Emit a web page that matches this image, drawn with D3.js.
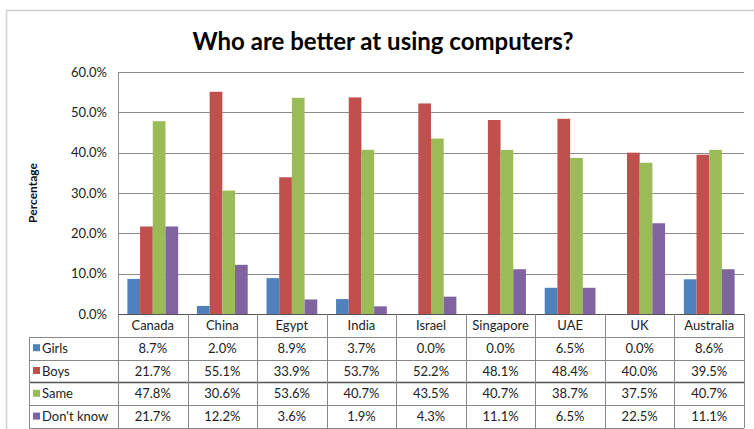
<!DOCTYPE html>
<html><head><meta charset="utf-8">
<script src="https://cdn.jsdelivr.net/npm/d3@7"></script>
<style>body{margin:0;background:#fff;} svg{display:block;font-family:Lato,"Open Sans",sans-serif;}</style>
</head><body>
<svg id="c" width="754" height="429"></svg>
<script>
const categories = ["Canada","China","Egypt","India","Israel","Singapore","UAE","UK","Australia"];
const seriesNames = ["Girls","Boys","Same","Don't know"];
const girls = [8.7,2.0,8.9,3.7,0.0,0.0,6.5,0.0,8.6];
const boys = [21.7,55.1,33.9,53.7,52.2,48.1,48.4,40.0,39.5];
const same = [47.8,30.6,53.6,40.7,43.5,40.7,38.7,37.5,40.7];
const dontKnow = [21.7,12.2,3.6,1.9,4.3,11.1,6.5,22.5,11.1];
const yTicks = [0,10,20,30,40,50,60];
const colors = ["#4F81BD","#C0504D","#9BBB59","#8064A2"];
const seriesValues = [girls, boys, same, dontKnow];

const svg = d3.select("#c");
const L = 118, R = 744, T = 72, B = 314;
const rowH = 22.8;
const fs = 13;

// outer border
svg.append("rect").attr("x",6.5).attr("y",10.5).attr("width",760).attr("height",430)
  .attr("fill","none").attr("stroke","#d0d0d0").attr("stroke-width",1.5);

svg.append("text").attr("x",383).attr("y",50).attr("text-anchor","middle")
  .attr("font-size",24).attr("font-weight","bold").attr("fill","#000")
  .text("Who are better at using computers?");

const x = d3.scaleBand().domain(categories).range([L,R]).padding(0);
const x1 = d3.scaleBand().domain(seriesNames).range([0,x.bandwidth()]).paddingInner(0).paddingOuter(0.74);
const y = d3.scaleLinear().domain([0,60]).range([B,T]);

// gridlines
svg.append("g").selectAll("line").data(yTicks.filter(d=>d>0)).join("line")
  .attr("x1",L).attr("x2",R).attr("y1",d=>Math.round(y(d))+0.5).attr("y2",d=>Math.round(y(d))+0.5)
  .attr("stroke","#8c8c8c").attr("stroke-width",1.2);

// y axis
const ya = svg.append("g").attr("transform",`translate(${L},0)`)
  .call(d3.axisLeft(y).tickValues(yTicks).tickSize(0).tickPadding(11).tickFormat(d=>d.toFixed(1)+"%"));
ya.select(".domain").attr("stroke","#8c8c8c");
ya.selectAll("text").attr("font-size",fs).attr("font-family","Lato,sans-serif").attr("fill","#222");

svg.append("text").attr("transform","translate(37,193) rotate(-90)").attr("text-anchor","middle")
  .attr("font-size",12).attr("font-weight","bold").attr("fill","#111").text("Percentage");

// bars
const flat = [];
categories.forEach((c,i)=>seriesNames.forEach((s,j)=>flat.push({c,s,v:seriesValues[j][i],col:colors[j]})));
svg.append("g").selectAll("rect").data(flat).join("rect")
  .attr("x",d=>x(d.c)+x1(d.s)).attr("width",x1.bandwidth())
  .attr("y",d=>y(d.v)).attr("height",d=>B-y(d.v)).attr("fill",d=>d.col);

// table
const tg = svg.append("g");
const tableLeft = 29;
const tb = B + rowH*5;
tg.append("line").attr("x1",L).attr("x2",R).attr("y1",B+0.5).attr("y2",B+0.5).attr("stroke","#555");
for(let r=1;r<=5;r++){
  const yy = Math.round(B + rowH*r)+0.5;
  tg.append("line").attr("x1",tableLeft).attr("x2",R).attr("y1",yy).attr("y2",yy)
    .attr("stroke", r===3 ? "#555" : "#888").attr("stroke-width", r===3?1.5:1);
}
const vx = categories.map(c=>x(c)).concat([R]);
vx.forEach(v=>tg.append("line").attr("x1",Math.round(v)+0.5).attr("x2",Math.round(v)+0.5).attr("y1",B).attr("y2",tb).attr("stroke","#888"));
tg.append("line").attr("x1",tableLeft+0.5).attr("x2",tableLeft+0.5).attr("y1",B+rowH).attr("y2",tb).attr("stroke","#888");

tg.selectAll("text.cat").data(categories).join("text").attr("class","cat")
  .attr("x",d=>x(d)+x.bandwidth()/2).attr("y",B+rowH/2+4.5).attr("text-anchor","middle")
  .attr("font-size",fs).attr("fill","#222").text(d=>d);

seriesNames.forEach((s,j)=>{
  const cy = B + rowH*(j+1) + rowH/2;
  tg.append("rect").attr("x",33).attr("y",cy-4).attr("width",7).attr("height",7).attr("fill",colors[j]);
  tg.append("text").attr("x",42).attr("y",cy+4.5).attr("font-size",fs).attr("fill","#222").text(s);
  tg.selectAll(null).data(categories).join("text")
    .attr("x",d=>x(d)+x.bandwidth()/2).attr("y",cy+4.5).attr("text-anchor","middle")
    .attr("font-size",fs).attr("fill","#222").text((d,i)=>seriesValues[j][i].toFixed(1)+"%");
});
</script>
</body></html>
